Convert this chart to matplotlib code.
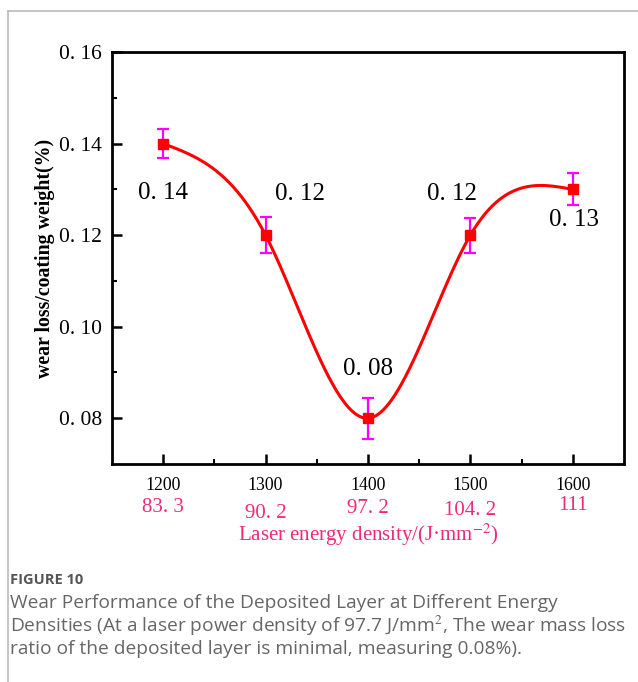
import numpy as np
import matplotlib.pyplot as plt
from matplotlib.lines import Line2D

power = [1200, 1300, 1400, 1500, 1600]
wear = [0.14, 0.12, 0.08, 0.12, 0.13]
err = [0.0032, 0.004, 0.0045, 0.0038, 0.0035]
labels = ['0. 14', '0. 12', '0. 08', '0. 12', '0. 13']
label_pos = [(1200, 0.1293), (1334, 0.1290), (1400, 0.0908), (1482, 0.1290), (1601, 0.1233)]
energy = ['83. 3', '90. 2', '97. 2', '104. 2', '111']
energy_y = [-0.105, -0.12, -0.108, -0.113, -0.1]

pink = '#ee2a7b'


def natural_spline(x, y, xs):
    x = np.asarray(x, float)
    y = np.asarray(y, float)
    n = len(x)
    h = np.diff(x)
    A = np.zeros((n, n))
    b = np.zeros(n)
    A[0, 0] = A[-1, -1] = 1
    for i in range(1, n - 1):
        A[i, i - 1] = h[i - 1]
        A[i, i] = 2 * (h[i - 1] + h[i])
        A[i, i + 1] = h[i]
        b[i] = 3 * ((y[i + 1] - y[i]) / h[i] - (y[i] - y[i - 1]) / h[i - 1])
    c = np.linalg.solve(A, b)
    out = np.empty_like(xs)
    for k, xv in enumerate(xs):
        i = min(np.searchsorted(x, xv, side='right') - 1, n - 2)
        i = max(i, 0)
        bi = (y[i + 1] - y[i]) / h[i] - h[i] * (2 * c[i] + c[i + 1]) / 3
        di = (c[i + 1] - c[i]) / (3 * h[i])
        t = xv - x[i]
        out[k] = y[i] + bi * t + c[i] * t ** 2 + di * t ** 3
    return out


plt.rcParams['font.family'] = ['Liberation Serif', 'DejaVu Serif']
plt.rcParams['mathtext.fontset'] = 'stix'

fig = plt.figure(figsize=(6.38, 6.82), dpi=100)

# card border (top and left)
fig.add_artist(Line2D([8 / 638, 1], [1 - 11 / 682, 1 - 11 / 682], color='#bbbbbb', lw=1.2))
fig.add_artist(Line2D([8 / 638, 8 / 638], [0, 1 - 11 / 682], color='#bbbbbb', lw=1.2))

ax = fig.add_axes([0.1755, 0.3196, 0.8025, 0.6041])

xs = np.linspace(1200, 1600, 300)
ax.plot(xs, natural_spline(power, wear, xs), color='red', lw=2.2)
ax.errorbar(power, wear, yerr=err, fmt='s', color='red', ms=7,
            ecolor='magenta', elinewidth=1.6, capsize=4, capthick=1.6)

for t, (x, y) in zip(labels, label_pos):
    ax.text(x, y, t, ha='center', va='center', fontsize=18)

ax.set_xlim(1150, 1650)
ax.set_ylim(0.07, 0.16)
ax.set_xticks(power)
ax.set_xticks([1250, 1350, 1450, 1550], minor=True)
ax.set_yticks([0.08, 0.10, 0.12, 0.14, 0.16])
ax.set_yticks([0.09, 0.11, 0.13, 0.15], minor=True)
ax.set_yticklabels(['0. 08', '0. 10', '0. 12', '0. 14', '0. 16'], fontsize=15.5)
ax.set_xticklabels([str(p) for p in power], fontsize=12.8)
ax.tick_params(axis='y', which='major', direction='in', length=7, width=1.8, pad=7)
ax.tick_params(axis='x', which='major', direction='in', length=7, width=1.8, pad=9)
ax.tick_params(which='minor', direction='in', length=3.5, width=1.5)
ax.tick_params(axis='both', top=False, right=False)
for s in ax.spines.values():
    s.set_linewidth(2)

for p, e, dy in zip(power, energy, energy_y):
    ax.text(p, dy, e, transform=ax.get_xaxis_transform(), ha='center', va='center',
            fontsize=15, color=pink)
ax.text(0.5, -0.172, 'Laser energy density/(J·mm$^{-2}$)', transform=ax.transAxes,
        ha='center', va='center', fontsize=15, color=pink)
ax.set_ylabel('wear loss/coating weight(%)', fontsize=14.3, fontweight='bold', labelpad=3)

cap = ['Open Sans', 'DejaVu Sans']
fig.text(10 / 638, 1 - 580 / 682, 'FIGURE 10', fontsize=10.5, fontweight='bold',
         color='#555555', family=cap, va='center')
fig.text(10 / 638, 1 - 603 / 682, 'Wear Performance of the Deposited Layer at Different Energy',
         fontsize=13.8, color='#666666', family=cap, va='center')
fig.text(10 / 638, 1 - 626 / 682,
         'Densities (At a laser power density of 97.7 J/mm$^2$, The wear mass loss',
         fontsize=13.8, color='#666666', family=cap, va='center')
fig.text(10 / 638, 1 - 649 / 682, 'ratio of the deposited layer is minimal, measuring 0.08%).',
         fontsize=13.8, color='#666666', family=cap, va='center')

fig.savefig('out.png', dpi=100)
